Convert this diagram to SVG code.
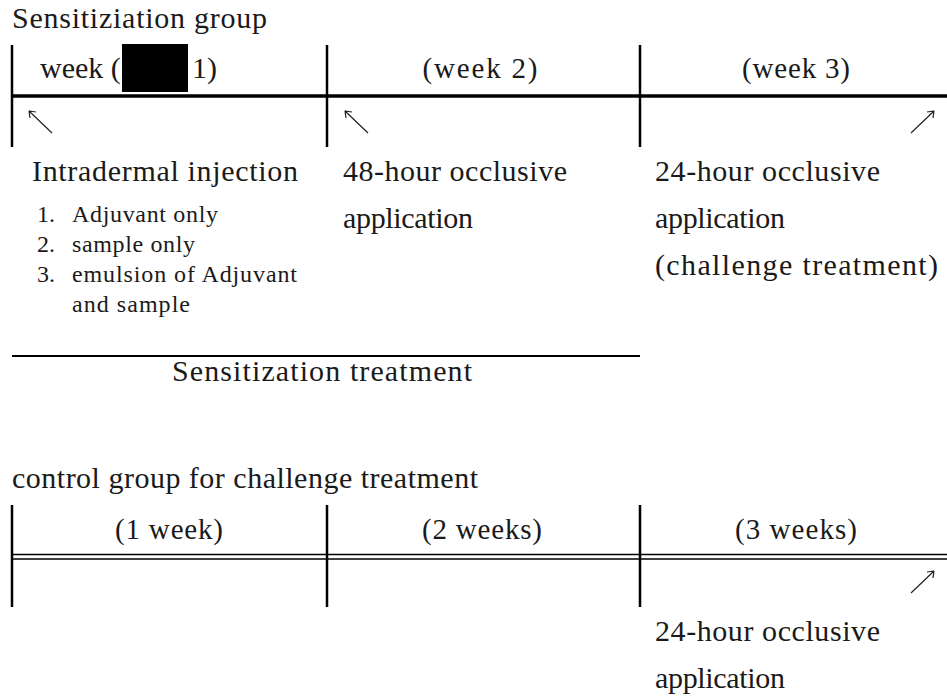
<svg xmlns="http://www.w3.org/2000/svg" width="947" height="699" viewBox="0 0 947 699">
<style>
text{font-family:"Liberation Serif","DejaVu Serif",serif;fill:#1a1a1a}
.t{font-size:30px}
.h{font-size:29px;text-anchor:middle}
.s{font-size:24px}
.v{stroke:#000;stroke-width:2.5}
.arr{stroke:#222;stroke-width:1.2;fill:none}
</style>
<rect width="947" height="699" fill="#fff"/>
<g id="sensitization-group">
<text class="t" x="12" y="28" textLength="255" lengthAdjust="spacing">Sensitiziation group</text>
<g id="timeline1">
<line class="v" x1="12" y1="45" x2="12" y2="147"/>
<line class="v" x1="327" y1="45" x2="327" y2="147"/>
<line class="v" x1="640" y1="45" x2="640" y2="147"/>
<line x1="12" y1="96" x2="947" y2="96" stroke="#000" stroke-width="3.5"/>
</g>
<g id="week1">
<text class="t" x="40" y="78">week (</text>
<rect x="122" y="44" width="66" height="48" fill="#000"/>
<text class="t" x="192" y="78">1)</text>
</g>
<g id="week2"><text class="h" x="480" y="78" textLength="115" lengthAdjust="spacing">(week 2)</text></g>
<g id="week3"><text class="h" x="796" y="78" textLength="108" lengthAdjust="spacing">(week 3)</text></g>
<g id="intradermal">
<text class="t" x="32" y="181" textLength="266" lengthAdjust="spacing">Intradermal injection</text>
<text class="s" x="37" y="222">1.</text><text class="s" x="72" y="222" textLength="146" lengthAdjust="spacing">Adjuvant only</text>
<text class="s" x="37" y="252">2.</text><text class="s" x="72" y="252" textLength="123" lengthAdjust="spacing">sample only</text>
<text class="s" x="37" y="282">3.</text><text class="s" x="72" y="282" textLength="225" lengthAdjust="spacing">emulsion of Adjuvant</text>
<text class="s" x="72" y="312" textLength="118" lengthAdjust="spacing">and sample</text>
</g>
<g id="occlusive48">
<text class="t" x="343" y="181" textLength="224" lengthAdjust="spacing">48-hour occlusive</text>
<text class="t" x="343" y="228" textLength="130" lengthAdjust="spacing">application</text>
</g>
<g id="occlusive24">
<text class="t" x="655" y="181" textLength="225" lengthAdjust="spacing">24-hour occlusive</text>
<text class="t" x="655" y="228" textLength="130" lengthAdjust="spacing">application</text>
<text class="t" x="655" y="275" textLength="283" lengthAdjust="spacing">(challenge treatment)</text>
</g>
<g id="sensitization-treatment">
<line x1="12" y1="356" x2="640" y2="356" stroke="#000" stroke-width="2"/>
<text class="t" x="172" y="381" textLength="300" lengthAdjust="spacing">Sensitization treatment</text>
</g>
</g>
<g id="control-group">
<text class="t" x="12" y="488" textLength="466" lengthAdjust="spacing">control group for challenge treatment</text>
<g id="timeline2">
<line class="v" x1="12" y1="505" x2="12" y2="607"/>
<line class="v" x1="327" y1="505" x2="327" y2="607"/>
<line class="v" x1="640" y1="505" x2="640" y2="607"/>
<line x1="12" y1="554.5" x2="947" y2="554.5" stroke="#000" stroke-width="1.6"/>
<line x1="12" y1="559" x2="947" y2="559" stroke="#000" stroke-width="1.6"/>
</g>
<g id="c-week1"><text class="h" x="169" y="539" textLength="108" lengthAdjust="spacing">(1 week)</text></g>
<g id="c-week2"><text class="h" x="482" y="539" textLength="120" lengthAdjust="spacing">(2 weeks)</text></g>
<g id="c-week3"><text class="h" x="796" y="539" textLength="122" lengthAdjust="spacing">(3 weeks)</text></g>
<g id="c-occlusive24">
<text class="t" x="655" y="641" textLength="225" lengthAdjust="spacing">24-hour occlusive</text>
<text class="t" x="655" y="688" textLength="130" lengthAdjust="spacing">application</text>
</g>
</g>
<g id="connectors">
<path class="arr" d="M52,133 L29,111 M29,111 L30,118 M29,111 L36,112"/>
<path class="arr" d="M368,133 L345,111 M345,111 L346,118 M345,111 L352,112"/>
<path class="arr" d="M911,133 L934,111 M934,111 L927,112 M934,111 L933,118"/>
<path class="arr" d="M911,593 L934,571 M934,571 L927,572 M934,571 L933,578"/>
</g>
</svg>
